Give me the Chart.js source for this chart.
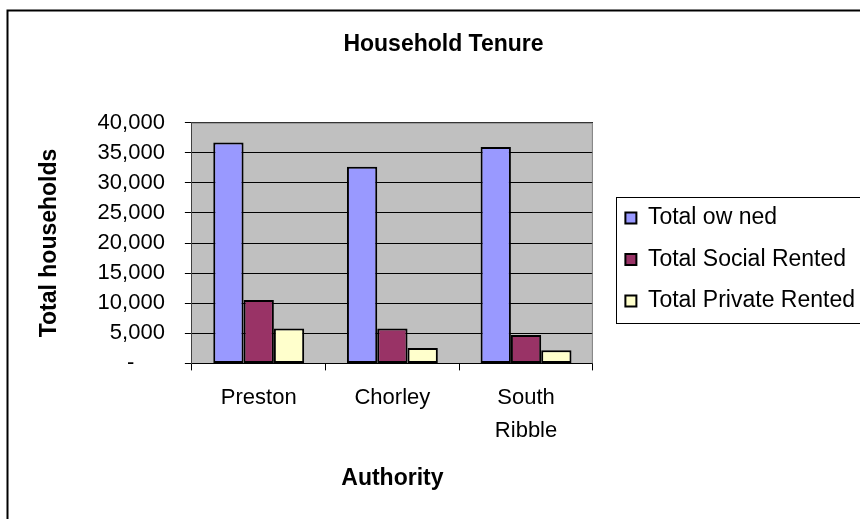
<!DOCTYPE html>
<html lang="en">
<head>
<meta charset="UTF-8">
<title>Household Tenure</title>
<style>
    body { margin: 0; background: #fff; }
    #wrap { width: 860px; height: 519px; }
</style>
<script src="https://cdn.jsdelivr.net/npm/chart.js"></script>
</head>
<body>
<div id="wrap"><canvas id="tenureChart" width="860" height="519"></canvas></div>
<script>
// values
const authorities = ['Preston', 'Chorley', ['South', 'Ribble']];
const totalOwned = [36700, 32650, 35950];
const totalSocialRented = [10550, 5800, 4700];
const totalPrivateRented = [5800, 2550, 2200];
const seriesNames = ['Total ow ned', 'Total Social Rented', 'Total Private Rented'];
const yMax = 40000;
const yStep = 5000;

const FONT = "'Liberation Sans', Arial, sans-serif";

// frame, grey plot area and legend box, like the old spreadsheet chart
const frame = {
    id: 'frame',
    beforeDraw(chart) {
        const {ctx, chartArea: a} = chart;
        ctx.save();
        ctx.fillStyle = '#c0c0c0';
        ctx.fillRect(a.left, a.top, a.right - a.left, a.bottom - a.top);
        ctx.strokeStyle = '#000';
        ctx.lineWidth = 2;
        ctx.beginPath();
        ctx.moveTo(7.5, 519);
        ctx.lineTo(7.5, 10.5);
        ctx.lineTo(860, 10.5);
        ctx.stroke();
        ctx.restore();
    },
    beforeDatasetsDraw(chart) {
        const {ctx, chartArea: a} = chart;
        ctx.save();
        ctx.strokeStyle = '#808080';
        ctx.lineWidth = 1;
        ctx.beginPath();
        ctx.moveTo(a.left, a.top + 0.5);
        ctx.lineTo(a.right - 0.5, a.top + 0.5);
        ctx.lineTo(a.right - 0.5, a.bottom);
        ctx.stroke();
        ctx.restore();
    },
    afterLayout(chart) {
        // nudge the legend a bit to the right of the plot
        chart.legend.left += 14;
        chart.legend.right += 14;
    },
    afterDraw(chart) {
        const boxes = chart.legend.legendHitBoxes;
        if (!boxes || !boxes.length) return;
        const first = boxes[0], last = boxes[boxes.length - 1];
        const left = Math.min(...boxes.map(b => b.left)) - 9;
        const top = first.top - 10;
        const bottom = last.top + last.height + 10;
        const ctx = chart.ctx;
        ctx.save();
        ctx.strokeStyle = '#000';
        ctx.lineWidth = 1;
        ctx.strokeRect(Math.round(left) + 0.5, Math.round(top) + 0.5, 870 - left, bottom - top);
        ctx.restore();
    }
};

const bar = (label, data, color) => ({
    label: label,
    data: data,
    backgroundColor: color,
    borderColor: '#000',
    borderWidth: 2,
    borderSkipped: false,
    categoryPercentage: 0.68,
    barPercentage: 1.0
});

new Chart(document.getElementById('tenureChart'), {
    type: 'bar',
    data: {
        labels: authorities,
        datasets: [
            bar(seriesNames[0], totalOwned, '#9999ff'),
            bar(seriesNames[1], totalSocialRented, '#993366'),
            bar(seriesNames[2], totalPrivateRented, '#ffffcc')
        ]
    },
    options: {
        responsive: false,
        animation: false,
        layout: { padding: { left: 36, top: 10, right: 9, bottom: 10 } },
        plugins: {
            title: {
                display: true,
                text: 'Household Tenure',
                color: '#000',
                font: { family: FONT, size: 23, weight: 'bold' },
                padding: { top: 21, bottom: 64 }
            },
            legend: {
                position: 'right',
                align: 'center',
                maxWidth: 320,
                labels: {
                    color: '#000',
                    font: { family: FONT, size: 23 },
                    boxWidth: 11,
                    boxHeight: 11,
                    padding: 18.5
                }
            },
            tooltip: { enabled: false }
        },
        scales: {
            x: {
                grid: {
                    offset: true,
                    drawOnChartArea: false,
                    drawTicks: true,
                    tickLength: 7,
                    color: '#000'
                },
                border: { display: true, color: '#000', width: 1 },
                ticks: {
                    color: '#000',
                    font: { family: FONT, size: 22, lineHeight: 1.5 },
                    padding: 11,
                    maxRotation: 0,
                    autoSkip: false
                },
                title: {
                    display: true,
                    text: 'Authority',
                    color: '#000',
                    font: { family: FONT, size: 23, weight: 'bold' },
                    padding: { top: 6, bottom: 17 }
                }
            },
            y: {
                min: 0,
                max: yMax,
                grid: {
                    color: '#000',
                    lineWidth: 1,
                    drawTicks: true,
                    tickLength: 7
                },
                border: { display: true, color: '#404040', width: 1 },
                ticks: {
                    stepSize: yStep,
                    color: '#000',
                    font: { family: FONT, size: 22 },
                    padding: 20,
                    callback: v => v === 0 ? '-     ' : v.toLocaleString('en-US')
                },
                title: {
                    display: true,
                    text: 'Total households',
                    color: '#000',
                    font: { family: FONT, size: 23, weight: 'bold' },
                    padding: { top: 0, bottom: 14 }
                }
            }
        }
    },
    plugins: [frame]
});
</script>
</body>
</html>
